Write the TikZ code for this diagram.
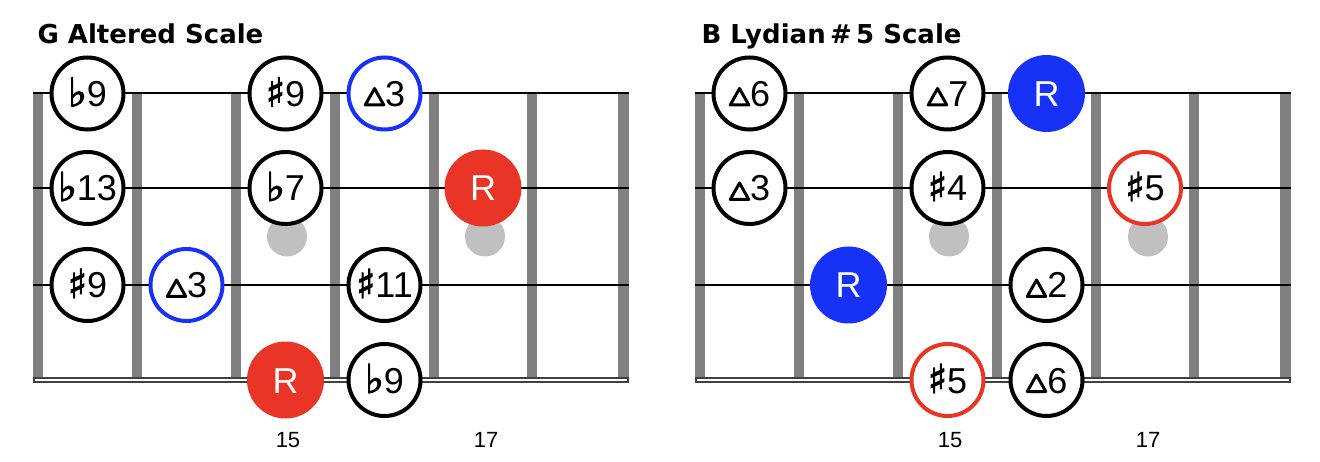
\documentclass[tikz,border=0pt]{standalone}
\usepackage{fontspec}
\usepackage{xcolor}
\setmainfont{Liberation Sans}
\newfontfamily\accfont{DejaVu Sans}[FakeBold=2.5]
\newfontfamily\headfont{DejaVu Sans}
\definecolor{rootred}{RGB}{232,53,38}
\definecolor{rootblue}{RGB}{24,50,245}
\definecolor{fretgrey}{RGB}{128,128,128}
\definecolor{dotgrey}{RGB}{192,192,192}
\newcommand{\flt}{{\accfont\bfseries\fontsize{40}{40}\selectfont ♭}}
\newcommand{\shp}{{\accfont\bfseries\fontsize{40}{40}\selectfont ♯}}
\newcommand{\maj}{\tikz[baseline=0pt,x=1pt,y=1pt]\draw[line width=3pt,line join=round]
  (1.5,1.5) -- (20,1.5) -- (10.8,18) -- cycle;}

\begin{document}
\begin{tikzpicture}[x=1pt,y=-1pt,
  note/.style={circle, draw=black, line width=4pt, fill=white, minimum size=72pt,
    inner sep=0pt, text height=26pt, text depth=0pt, font=\fontsize{36}{36}\selectfont},
  bluering/.style={note, draw=rootblue},
  redring/.style={note, draw=rootred},
  redroot/.style={note, draw=none, fill=rootred, text=white, minimum size=77pt},
  blueroot/.style={note, draw=none, fill=rootblue, text=white, minimum size=77pt},
  title/.style={anchor=base west, font=\headfont\bfseries\fontsize{26}{26}\selectfont},
  fretnum/.style={anchor=base, font=\fontsize{22}{22}\selectfont}]
\useasboundingbox (0,0) rectangle (1320,462);

% G altered
\node[title] (ttlA) at (34,43.3){G Altered Scale};
\fill[fretgrey] (33,93.5) rectangle (43,380);
\fill[fretgrey] (132,93.5) rectangle (142,380);
\fill[fretgrey] (231,93.5) rectangle (241,380);
\fill[fretgrey] (330,93.5) rectangle (340,380);
\fill[fretgrey] (429,93.5) rectangle (439,380);
\fill[fretgrey] (527,93.5) rectangle (537,380);
\fill[fretgrey] (618,93.5) rectangle (628.5,380);
\draw[line width=2pt] (33,93.5) -- (628.5,93.5);
\draw[line width=2pt] (33,188) -- (628.5,188);
\draw[line width=2pt] (33,285) -- (628.5,285);
\draw[line width=2pt, draw=black!75, fill=white] (34.3,378.3) rectangle (627.7,381.7);
\fill[dotgrey] (287,236.5) circle (20);
\fill[dotgrey] (485,236.5) circle (20);
\node[note](a1) at (87.5,93.5){\flt9};
\node[note](a2) at (285.5,93.5){\shp9};
\node[bluering](a3) at (384.5,93.5){\maj3};
\node[note](a4) at (87.5,188){\flt13};
\node[note](a5) at (285.5,188){\flt7};
\node[redroot](a6) at (483,188){R};
\node[note](a7) at (87.5,285){\shp9};
\node[bluering](a8) at (186.5,285){\maj3};
\node[note](a9) at (384.5,285){\shp11};
\node[redroot](a10) at (285.5,380){R};
\node[note](a11) at (384.5,380){\flt9};
\node[fretnum](nA15) at (288,447){15};
\node[fretnum](nA17) at (486,447){17};

% B lydian #5
\node[title] (ttlB) at (698,43.3){B Lydian\,\#\,5 Scale};
\fill[fretgrey] (695,93.5) rectangle (705,380);
\fill[fretgrey] (794,93.5) rectangle (804,380);
\fill[fretgrey] (893,93.5) rectangle (903,380);
\fill[fretgrey] (992,93.5) rectangle (1002,380);
\fill[fretgrey] (1091,93.5) rectangle (1101,380);
\fill[fretgrey] (1189,93.5) rectangle (1199,380);
\fill[fretgrey] (1280,93.5) rectangle (1290.5,380);
\draw[line width=2pt] (695,93.5) -- (1290.5,93.5);
\draw[line width=2pt] (695,188) -- (1290.5,188);
\draw[line width=2pt] (695,285) -- (1290.5,285);
\draw[line width=2pt, draw=black!75, fill=white] (696.3,378.3) rectangle (1289.7,381.7);
\fill[dotgrey] (949,236.5) circle (20);
\fill[dotgrey] (1148,236.5) circle (20);
\node[note](b1) at (749.5,93.5){\maj6};
\node[note](b2) at (947.5,93.5){\maj7};
\node[blueroot](b3) at (1046.5,93.5){R};
\node[note](b4) at (749.5,188){\maj3};
\node[note](b5) at (947.5,188){\shp4};
\node[redring](b6) at (1145,188){\shp5};
\node[blueroot](b7) at (848.5,285){R};
\node[note](b8) at (1046.5,285){\maj2};
\node[redring](b9) at (947.5,380){\shp5};
\node[note](b10) at (1046.5,380){\maj6};
\node[fretnum](nB15) at (950,447){15};
\node[fretnum](nB17) at (1148,447){17};
\end{tikzpicture}
\end{document}
